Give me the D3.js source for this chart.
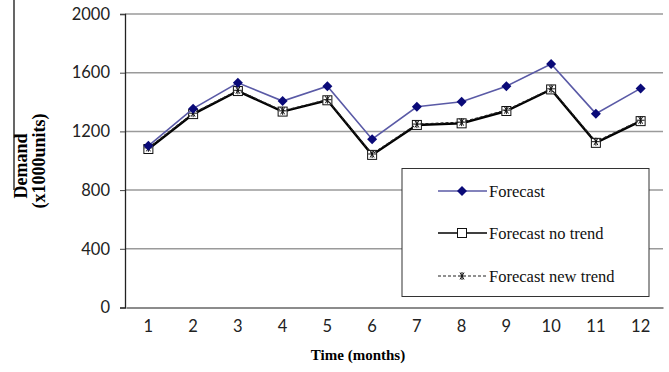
<!DOCTYPE html>
<html>
<head>
<meta charset="utf-8">
<script src="https://cdn.jsdelivr.net/npm/d3@7"></script>
<style>
  body { margin: 0; background: #fff; }
  svg { display: block; }
</style>
</head>
<body>
<svg id="chart" width="669" height="372"></svg>
<script>
// Monthly demand forecasts (x1000 units)
const months = [1, 2, 3, 4, 5, 6, 7, 8, 9, 10, 11, 12];
const forecast = [1102, 1355, 1531, 1407, 1508, 1147, 1368, 1402, 1508, 1659, 1321, 1493];
const forecastNoTrend = [1080, 1318, 1475, 1335, 1412, 1040, 1244, 1255, 1339, 1486, 1122, 1270];
const forecastNewTrend = [1088, 1324, 1480, 1340, 1416, 1046, 1250, 1263, 1345, 1490, 1130, 1276];
const yTicks = [0, 400, 800, 1200, 1600, 2000];
const seriesNames = ["Forecast", "Forecast no trend", "Forecast new trend"];

const svg = d3.select("#chart");

const x = d3.scaleBand().domain(months).range([126, 663]);
const y = d3.scaleLinear().domain([0, 2000]).range([307.5, 14]);
const cx = d => x(d) + x.bandwidth() / 2;

// horizontal gridlines
svg.append("g")
  .selectAll("line")
  .data(yTicks.filter(t => t > 0))
  .join("line")
  .attr("x1", 125).attr("x2", 663)
  .attr("y1", d => y(d)).attr("y2", d => y(d))
  .attr("stroke", "#9a9a9a").attr("stroke-width", 1.5);

// y axis
const yAxis = svg.append("g")
  .attr("transform", "translate(125,0)")
  .call(d3.axisLeft(y).tickValues(yTicks).tickSize(5).tickPadding(10).tickFormat(d3.format("d")));
yAxis.select(".domain").attr("stroke", "#222").attr("stroke-width", 1.3);
yAxis.selectAll(".tick line").attr("stroke", "#444");
yAxis.selectAll("text")
  .attr("font-family", "Lato, 'Open Sans', sans-serif")
  .attr("font-size", 16.5).attr("fill", "#222");

// x axis
const xAxis = svg.append("g")
  .attr("transform", `translate(0,${y(0)})`)
  .call(d3.axisBottom(x).tickSize(0).tickPadding(13));
xAxis.select(".domain").attr("stroke", "#666").attr("stroke-width", 1.5);
xAxis.selectAll("text")
  .attr("font-family", "Lato, 'Open Sans', sans-serif")
  .attr("font-size", 16.5).attr("fill", "#222");

// axis titles
svg.append("text")
  .attr("x", 358).attr("y", 360)
  .attr("text-anchor", "middle")
  .attr("font-family", "'Liberation Serif', 'DejaVu Serif', serif")
  .attr("font-weight", "bold").attr("font-size", 15)
  .text("Time (months)");

const yTitle = svg.append("g")
  .attr("font-family", "'Liberation Serif', 'DejaVu Serif', serif")
  .attr("font-weight", "bold").attr("font-size", 18)
  .attr("text-anchor", "middle");
yTitle.append("text")
  .attr("transform", "translate(27,166) rotate(-90)")
  .text("Demand");
yTitle.append("text")
  .attr("transform", "translate(45,161) rotate(-90)")
  .text("(x1000units)");
svg.append("line")
  .attr("x1", 14).attr("x2", 14).attr("y1", 0).attr("y2", 190)
  .attr("stroke", "#000").attr("stroke-width", 1.2);

// marker shapes
const diamond = d3.symbol().type(d3.symbolSquare).size(50);
function squareMarker(g, px, py) {
  g.append("rect")
    .attr("x", px - 4.5).attr("y", py - 4.5)
    .attr("width", 9).attr("height", 9)
    .attr("fill", "#fff").attr("stroke", "#111").attr("stroke-width", 1);
}
function starMarker(g, px, py) {
  const r = 4;
  [[-r, 0, r, 0], [-r * 0.5, -r * 0.87, r * 0.5, r * 0.87], [-r * 0.5, r * 0.87, r * 0.5, -r * 0.87], [0, -r, 0, r]]
    .forEach(s => g.append("line")
      .attr("x1", px + s[0]).attr("y1", py + s[1])
      .attr("x2", px + s[2]).attr("y2", py + s[3])
      .attr("stroke", "#111").attr("stroke-width", 1));
}

const line = vals => d3.line().x((d, i) => cx(months[i])).y(d => y(d))(vals);

// Forecast no trend
svg.append("path").attr("d", line(forecastNoTrend))
  .attr("fill", "none").attr("stroke", "#000").attr("stroke-width", 2.4);
const sqG = svg.append("g");
forecastNoTrend.forEach((v, i) => squareMarker(sqG, cx(months[i]), y(v)));

// Forecast new trend
svg.append("path").attr("d", line(forecastNewTrend))
  .attr("fill", "none").attr("stroke", "#222").attr("stroke-width", 1.2)
  .attr("stroke-dasharray", "3,2");
const stG = svg.append("g");
forecastNewTrend.forEach((v, i) => starMarker(stG, cx(months[i]), y(v)));

// Forecast
svg.append("path").attr("d", line(forecast))
  .attr("fill", "none").attr("stroke", "#5a5aa6").attr("stroke-width", 1.6);
svg.append("g").selectAll("path")
  .data(forecast)
  .join("path")
  .attr("transform", (d, i) => `translate(${cx(months[i])},${y(d)}) rotate(45)`)
  .attr("d", diamond)
  .attr("fill", "#0a0a78");

// legend
const lg = svg.append("g");
lg.append("rect")
  .attr("x", 402).attr("y", 168.5).attr("width", 247).attr("height", 128)
  .attr("fill", "#fff").attr("stroke", "#333").attr("stroke-width", 1);
const rowsY = [191, 233, 276];
rowsY.forEach((ry, i) => {
  if (i === 0) {
    lg.append("line").attr("x1", 438).attr("x2", 487).attr("y1", ry).attr("y2", ry)
      .attr("stroke", "#5a5aa6").attr("stroke-width", 1.6);
    lg.append("path").attr("transform", `translate(462,${ry}) rotate(45)`).attr("d", diamond).attr("fill", "#0a0a78");
  } else if (i === 1) {
    lg.append("line").attr("x1", 438).attr("x2", 487).attr("y1", ry).attr("y2", ry)
      .attr("stroke", "#000").attr("stroke-width", 1.4);
    squareMarker(lg, 462, ry);
  } else {
    lg.append("line").attr("x1", 438).attr("x2", 487).attr("y1", ry).attr("y2", ry)
      .attr("stroke", "#222").attr("stroke-width", 1.1).attr("stroke-dasharray", "3,2");
    lg.append("rect").attr("x", 457).attr("y", ry - 5).attr("width", 10).attr("height", 10).attr("fill", "#fff");
    starMarker(lg, 462, ry);
  }
  lg.append("text")
    .attr("x", 489).attr("y", ry).attr("dy", "0.35em")
    .attr("font-family", "'Liberation Serif', 'DejaVu Serif', serif")
    .attr("font-size", 16.5).attr("fill", "#111")
    .text(seriesNames[i]);
});
</script>
</body>
</html>
